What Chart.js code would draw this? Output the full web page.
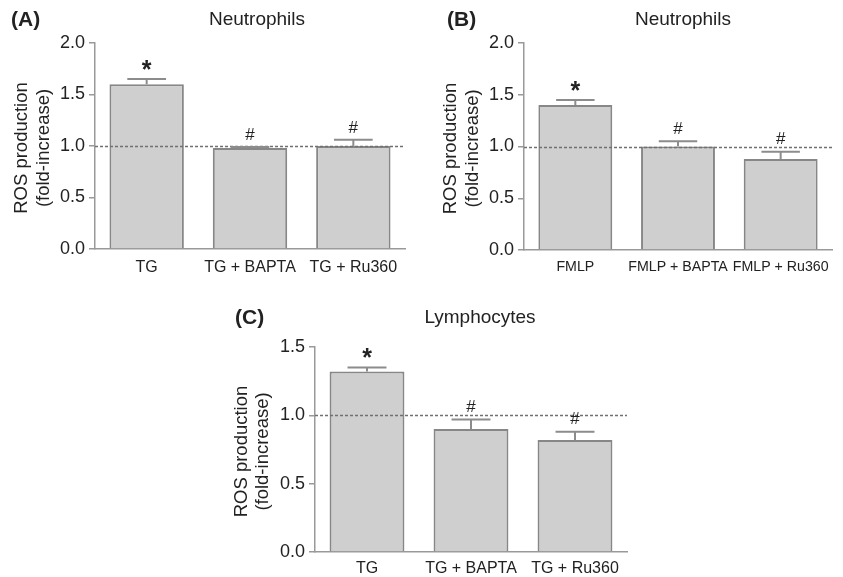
<!DOCTYPE html>
<html>
<head>
<meta charset="utf-8">
<script src="https://cdn.jsdelivr.net/npm/chart.js@4.4.0/dist/chart.umd.min.js"></script>
<style>
  body { margin: 0; background: #fff; }
  .panel { position: absolute; }
</style>
</head>
<body>
<div class="panel" style="left:0;top:0"><canvas id="chartA" width="420" height="280"></canvas></div>
<div class="panel" style="left:420px;top:0"><canvas id="chartB" width="423" height="280"></canvas></div>
<div class="panel" style="left:200px;top:280px"><canvas id="chartC" width="450" height="297"></canvas></div>
<script>
// Datos de los tres paneles
const categoriesA = ['TG', 'TG + BAPTA', 'TG + Ru360'];
const valuesA = [1.6, 0.98, 1.0];
const errorsA = [0.05, 0.01, 0.06];
const marksA = ['*', '#', '#'];

const categoriesB = ['FMLP', 'FMLP + BAPTA', 'FMLP + Ru360'];
const valuesB = [1.4, 1.0, 0.88];
const errorsB = [0.05, 0.05, 0.07];
const marksB = ['*', '#', '#'];

const categoriesC = ['TG', 'TG + BAPTA', 'TG + Ru360'];
const valuesC = [1.32, 0.9, 0.82];
const errorsC = [0.03, 0.07, 0.06];
const marksC = ['*', '#', '#'];

const yTicksAB = [0, 0.5, 1.0, 1.5, 2.0];
const yTicksC = [0, 0.5, 1.0, 1.5];
const baseline = 1.0;

const FONT = "'Liberation Sans', Arial, sans-serif";
const AXIS = '#999999';
const TEXT = '#222222';

// Plugin para barras de error, simbolos, linea de referencia y titulos
const panelDecor = {
    id: 'panelDecor',
    afterDatasetsDraw(chart, args, opts) {
        const ctx = chart.ctx;
        const area = chart.chartArea;
        const y = chart.scales.y;
        const ds = chart.data.datasets[0];
        const meta = chart.getDatasetMeta(0);

        // linea discontinua en 1.0
        const yb = Math.round(y.getPixelForValue(baseline)) + 0.5;
        ctx.save();
        ctx.strokeStyle = '#707070';
        ctx.lineWidth = 1.3;
        ctx.setLineDash([3, 2]);
        ctx.beginPath();
        ctx.moveTo(area.left, yb);
        ctx.lineTo(area.right, yb);
        ctx.stroke();
        ctx.restore();

        // barras de error (solo hacia arriba) y marcas
        ctx.save();
        meta.data.forEach((bar, i) => {
            const top = y.getPixelForValue(ds.data[i] + ds.errors[i]);
            const half = bar.width * 0.26;
            ctx.strokeStyle = '#8c8c8c';
            ctx.lineWidth = 2;
            ctx.beginPath();
            ctx.moveTo(bar.x, bar.y);
            ctx.lineTo(bar.x, top);
            ctx.moveTo(bar.x - half, top);
            ctx.lineTo(bar.x + half, top);
            ctx.stroke();

            const mark = ds.marks[i];
            ctx.fillStyle = TEXT;
            ctx.textAlign = 'center';
            ctx.textBaseline = 'middle';
            if (mark === '*') {
                ctx.font = 'bold 25px ' + FONT;
                ctx.fillText(mark, bar.x, top - 8);
            } else {
                ctx.font = '17px ' + FONT;
                ctx.fillText(mark, bar.x, top - 12);
            }
        });
        ctx.restore();
    },
    afterDraw(chart, args, opts) {
        const ctx = chart.ctx;
        ctx.save();
        ctx.fillStyle = TEXT;
        ctx.textBaseline = 'middle';

        ctx.font = 'bold 21px ' + FONT;
        ctx.textAlign = 'left';
        ctx.fillText(opts.letter, opts.letterX, opts.letterY);

        ctx.font = '19px ' + FONT;
        ctx.textAlign = 'center';
        ctx.fillText(opts.title, opts.titleX, opts.letterY);

        // titulo del eje Y en dos lineas
        const cy = (chart.chartArea.top + chart.chartArea.bottom) / 2 + 2;
        ctx.font = '18.5px ' + FONT;
        ctx.translate(opts.yTitleX, cy);
        ctx.rotate(-Math.PI / 2);
        ctx.fillText('ROS production', 0, 0);
        ctx.fillText('(fold-increase)', 0, opts.yTitleGap);
        ctx.restore();
    }
};

function makeChart(id, cfg) {
    const canvas = document.getElementById(id);
    const W = canvas.width, H = canvas.height;
    return new Chart(canvas.getContext('2d'), {
        type: 'bar',
        data: {
            labels: cfg.labels,
            datasets: [{
                data: cfg.values,
                errors: cfg.errors,
                marks: cfg.marks,
                backgroundColor: '#cfcfcf',
                borderColor: '#878787',
                borderWidth: 2,
                barPercentage: 0.72,
                categoryPercentage: 1
            }]
        },
        options: {
            responsive: false,
            animation: false,
            layout: { padding: { top: cfg.top, right: W - cfg.right, left: 0, bottom: 0 } },
            plugins: {
                legend: { display: false },
                tooltip: { enabled: false },
                panelDecor: cfg.decor
            },
            scales: {
                x: {
                    grid: { display: false, drawTicks: false },
                    border: { display: true, color: AXIS, width: 1.5 },
                    ticks: {
                        color: TEXT,
                        font: { family: FONT, size: cfg.xFont },
                        padding: cfg.xPad,
                        maxRotation: 0,
                        autoSkip: false
                    },
                    afterFit(s) { s.height = H - cfg.bottom; }
                },
                y: {
                    min: 0,
                    max: cfg.yTicks[cfg.yTicks.length - 1],
                    grid: { display: true, drawOnChartArea: false, drawTicks: true, tickLength: 6, color: AXIS, lineWidth: 1.5 },
                    border: { display: true, color: AXIS, width: 1.5 },
                    ticks: {
                        color: TEXT,
                        font: { family: FONT, size: 18 },
                        padding: 4,
                        callback: v => Number(v).toFixed(1)
                    },
                    afterBuildTicks(s) { s.ticks = cfg.yTicks.map(v => ({ value: v })); },
                    afterFit(s) { s.width = cfg.left; }
                }
            }
        },
        plugins: [panelDecor]
    });
}

makeChart('chartA', {
    labels: categoriesA, values: valuesA, errors: errorsA, marks: marksA, yTicks: yTicksAB,
    left: 95, right: 405, top: 43, bottom: 249, xFont: 16, xPad: 9,
    decor: { letter: '(A)', letterX: 11, letterY: 20, title: 'Neutrophils', titleX: 257, yTitleX: 22, yTitleGap: 22 }
});

makeChart('chartB', {
    labels: categoriesB, values: valuesB, errors: errorsB, marks: marksB, yTicks: yTicksAB,
    left: 104, right: 412, top: 43, bottom: 250, xFont: 14.2, xPad: 9,
    decor: { letter: '(B)', letterX: 27, letterY: 20, title: 'Neutrophils', titleX: 263, yTitleX: 31, yTitleGap: 22 }
});

makeChart('chartC', {
    labels: categoriesC, values: valuesC, errors: errorsC, marks: marksC, yTicks: yTicksC,
    left: 115, right: 427, top: 67, bottom: 272, xFont: 16, xPad: 7,
    decor: { letter: '(C)', letterX: 35, letterY: 38, title: 'Lymphocytes', titleX: 280, yTitleX: 42, yTitleGap: 21 }
});
</script>
</body>
</html>
